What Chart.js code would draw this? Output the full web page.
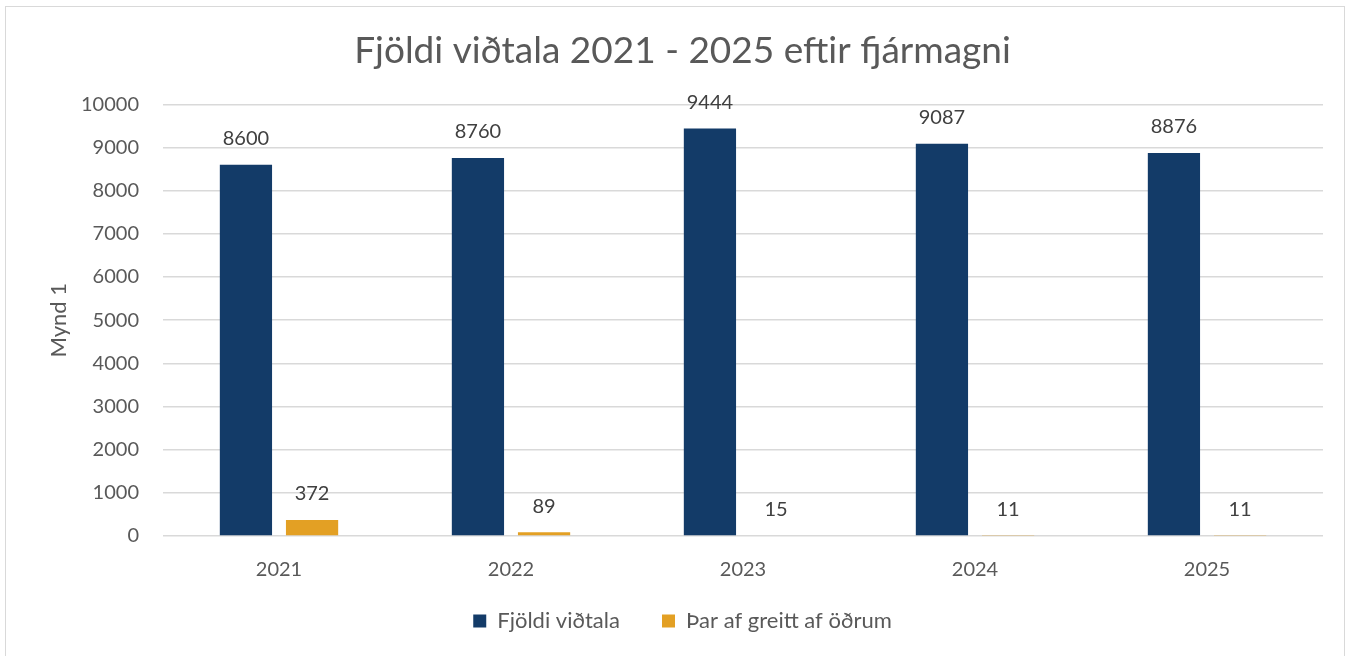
<!DOCTYPE html>
<html>
<head>
<meta charset="utf-8">
<script src="https://cdn.jsdelivr.net/npm/chart.js@4.4.1/dist/chart.umd.min.js"></script>
<style>
  html, body { margin: 0; padding: 0; background: #fff; }
  #wrap { position: relative; width: 1351px; height: 656px; }
  #frame { position: absolute; left: 5px; top: 6px; width: 1340px; height: 660px; border: 1.5px solid #d9d9d9; box-sizing: border-box; }
  canvas { position: absolute; left: 0; top: 0; }
</style>
</head>
<body>
<div id="wrap">
  <div id="frame"></div>
  <canvas id="myChart" width="1351" height="656"></canvas>
</div>
<script>
const ar = ['2021', '2022', '2023', '2024', '2025'];
const fjoldiVidtala = [8600, 8760, 9444, 9087, 8876];
const greittAfOdrum = [372, 89, 15, 11, 11];
const yTicks = [0, 1000, 2000, 3000, 4000, 5000, 6000, 7000, 8000, 9000, 10000];

const textaLitur = '#595959';
const letur = 'Lato, "Open Sans", sans-serif';

// skrifar gildin fyrir ofan súlurnar
const gildiPlugin = {
  id: 'gildi',
  afterDatasetsDraw(chart) {
    const ctx = chart.ctx;
    ctx.save();
    ctx.font = '20px ' + letur;
    ctx.fillStyle = '#404040';
    ctx.textAlign = 'center';
    ctx.textBaseline = 'middle';
    chart.data.datasets.forEach((ds, i) => {
      chart.getDatasetMeta(i).data.forEach((bar, j) => {
        ctx.fillText(ds.data[j], bar.x, bar.y - 26);
      });
    });
    ctx.restore();
  }
};

const data = {
  labels: ar,
  datasets: [{
    label: 'Fjöldi viðtala',
    backgroundColor: '#133B68',
    data: fjoldiVidtala,
  }, {
    label: 'Þar af greitt af öðrum',
    backgroundColor: '#E3A024',
    data: greittAfOdrum,
  }]
};

const config = {
  type: 'bar',
  data,
  options: {
    responsive: false,
    animation: false,
    categoryPercentage: 0.57,
    barPercentage: 0.79,
    layout: { padding: { left: 42, right: 28, top: 0, bottom: 14 } },
    plugins: {
      title: {
        display: true,
        text: 'Fjöldi viðtala 2021 - 2025 eftir fjármagni',
        color: textaLitur,
        font: { family: letur, size: 37, weight: 'normal' },
        padding: { top: 29, bottom: 31 }
      },
      legend: {
        position: 'bottom',
        labels: {
          color: textaLitur,
          font: { family: letur, size: 22 },
          boxWidth: 13,
          boxHeight: 13,
          padding: 14,
          // auka bil á milli liða í skýringunni
          generateLabels: chart => {
            const items = Chart.defaults.plugins.legend.labels.generateLabels(chart);
            items.forEach((it, i) => { if (i < items.length - 1) it.text += '     '; });
            return items;
          }
        }
      },
      tooltip: { enabled: false }
    },
    scales: {
      x: {
        grid: { display: false },
        border: { display: false },
        ticks: { color: textaLitur, font: { family: letur, size: 20 }, padding: 14 }
      },
      y: {
        min: 0,
        max: 10000,
        afterBuildTicks: axis => { axis.ticks = yTicks.map(v => ({ value: v })); },
        afterFit: axis => { axis.width = 121; },
        grid: { color: '#d9d9d9', lineWidth: 1.5, drawTicks: false },
        border: { display: false },
        ticks: {
          color: textaLitur,
          font: { family: letur, size: 20 },
          padding: 24,
          callback: v => String(v)
        },
        title: {
          display: true,
          text: 'Mynd 1',
          color: textaLitur,
          font: { family: letur, size: 22 },
          padding: { bottom: 14 }
        }
      }
    }
  },
  plugins: [gildiPlugin]
};

var myChart = new Chart(document.getElementById('myChart'), config);
</script>
</body>
</html>
